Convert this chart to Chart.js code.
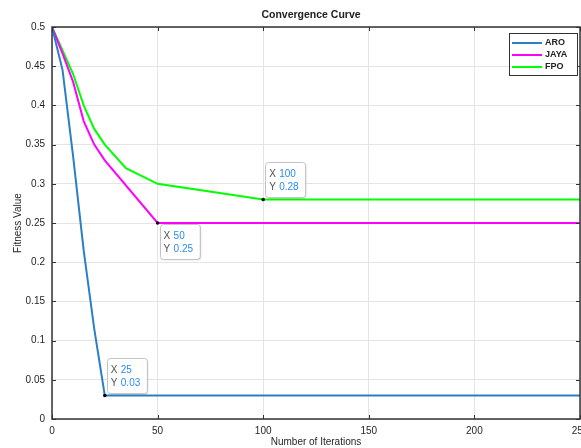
<!DOCTYPE html>
<html><head><meta charset="utf-8">
<script src="https://cdn.jsdelivr.net/npm/chart.js@4.4.1/dist/chart.umd.min.js"></script>
<style>html,body{margin:0;padding:0;background:#fff;overflow:hidden}#wrap{width:581px;height:448px;position:relative}</style>
</head><body><div id="wrap"><canvas id="c" width="581" height="448"></canvas></div>
<script>
const seriesNames = ['ARO', 'JAYA', 'FPO'];
const aroIter  = [0, 5, 10, 15, 20, 25, 250];
const aroFit   = [0.5, 0.445, 0.335, 0.215, 0.115, 0.03, 0.03];
const jayaIter = [0, 5, 10, 15, 20, 25, 50, 250];
const jayaFit  = [0.5, 0.466, 0.43, 0.38, 0.35, 0.33, 0.25, 0.25];
const fpoIter  = [0, 5, 10, 15, 20, 25, 35, 50, 100, 250];
const fpoFit   = [0.5, 0.47, 0.44, 0.40, 0.37, 0.35, 0.32, 0.30, 0.28, 0.28];
const xTicks = [0, 50, 100, 150, 200, 250];
const yTicks = [0, 0.05, 0.1, 0.15, 0.2, 0.25, 0.3, 0.35, 0.4, 0.45, 0.5];
const tipSeries = [0, 1, 2];
const tipIter = [25, 50, 100];
const titleText = 'Convergence Curve';

const iters = [aroIter, jayaIter, fpoIter];
const fits = [aroFit, jayaFit, fpoFit];
const colors = ['#2b7fc6', '#ff00ff', '#00ff00'];
const FAM = '"Liberation Sans", Arial, sans-serif';

const overlay = {
  id: 'overlay',
  afterDatasetsDraw(chart) {
    const {ctx, chartArea: a, scales: {x, y}} = chart;
    ctx.save();
    const line = (x1, y1, x2, y2) => { ctx.beginPath(); ctx.moveTo(x1, y1); ctx.lineTo(x2, y2); ctx.stroke(); };
    // axes box + inward ticks
    ctx.strokeStyle = '#333'; ctx.lineWidth = 1;
    xTicks.forEach(v => { const px = Math.round(x.getPixelForValue(v)) + 0.5; line(px, a.bottom, px, a.bottom - 4); line(px, a.top, px, a.top + 4); });
    yTicks.forEach(v => { const py = Math.round(y.getPixelForValue(v)) + 0.5; line(a.left, py, a.left + 4, py); line(a.right, py, a.right - 4, py); });
    ctx.lineWidth = 1.5;
    ctx.strokeRect(Math.round(a.left), Math.round(a.top), Math.round(a.right - a.left), Math.round(a.bottom - a.top));

    // title
    ctx.fillStyle = '#222';
    ctx.font = 'bold 10.5px ' + FAM;
    ctx.textAlign = 'center'; ctx.textBaseline = 'middle';
    ctx.fillText(titleText, (a.left + a.right) / 2 - 5, 15);

    // data tips
    tipSeries.forEach((s, i) => {
      const k = iters[s].indexOf(tipIter[i]);
      const xv = iters[s][k], yv = fits[s][k];
      const px = x.getPixelForValue(xv), py = y.getPixelForValue(yv);
      const w = 40, h = 35;
      const below = (i === 1);
      const bx = px + 2, by = below ? py + 1 : py - 2 - h;
      ctx.save();
      ctx.shadowColor = 'rgba(0,0,0,0.18)'; ctx.shadowBlur = 2; ctx.shadowOffsetX = 1; ctx.shadowOffsetY = 1;
      ctx.fillStyle = '#fff';
      ctx.beginPath(); ctx.roundRect(bx, by, w, h, 3); ctx.fill();
      ctx.restore();
      ctx.strokeStyle = '#c4c4c4'; ctx.lineWidth = 1;
      ctx.beginPath(); ctx.roundRect(Math.round(bx) + 0.5, Math.round(by) + 0.5, w, h, 3); ctx.stroke();
      ctx.font = '10px ' + FAM; ctx.textAlign = 'left'; ctx.textBaseline = 'middle';
      ctx.fillStyle = '#505050';
      ctx.fillText('X', bx + 4, by + 12);
      ctx.fillText('Y', bx + 4, by + 25);
      ctx.fillStyle = '#2a8cf0';
      ctx.fillText(String(xv), bx + 14, by + 12);
      ctx.fillText(yv.toFixed(2), bx + 14, by + 25);
      ctx.fillStyle = '#000';
      ctx.beginPath(); ctx.arc(px, py, 1.8, 0, Math.PI * 2); ctx.fill();
    });

    // legend
    const lx = 509, ly = 33, lw = 68, lh = 42;
    ctx.fillStyle = '#fff'; ctx.fillRect(lx, ly, lw, lh);
    ctx.strokeStyle = '#333'; ctx.lineWidth = 1;
    ctx.strokeRect(lx + 0.5, ly + 0.5, lw, lh);
    ctx.font = 'bold 9px ' + FAM; ctx.textAlign = 'left'; ctx.textBaseline = 'middle';
    seriesNames.forEach((n, i) => {
      const yy = ly + 10 + i * 12;
      ctx.strokeStyle = colors[i]; ctx.lineWidth = 2;
      line(lx + 3, yy, lx + 33, yy);
      ctx.fillStyle = '#222';
      ctx.fillText(n, lx + 36, yy);
    });
    ctx.restore();
  }
};

new Chart(document.getElementById('c'), {
  type: 'line',
  data: {
    datasets: seriesNames.map((n, i) => ({
      label: n,
      data: iters[i].map((v, j) => ({x: v, y: fits[i][j]})),
      borderColor: colors[i], backgroundColor: colors[i],
      borderWidth: 2, pointRadius: 0, fill: false, tension: 0
    }))
  },
  options: {
    responsive: false, animation: false, devicePixelRatio: 1,
    layout: {padding: {top: 27, right: 1, left: 0, bottom: 0}},
    plugins: {legend: {display: false}, tooltip: {enabled: false}, title: {display: false}},
    scales: {
      x: {
        type: 'linear', min: 0, max: 250,
        afterBuildTicks(s) { s.ticks = xTicks.map(v => ({value: v})); },
        afterFit(s) { s.height = 29; s.paddingLeft = 0; s.paddingRight = 0; },
        grid: {color: '#e4e4e4', drawTicks: false},
        border: {display: false},
        ticks: {padding: 6, autoSkip: false, maxRotation: 0, color: '#262626', font: {size: 10, family: FAM}, callback: v => String(v)},
        title: {display: true, text: 'Number of Iterations', color: '#262626', font: {size: 10, family: FAM}, padding: {top: 0, bottom: 0}}
      },
      y: {
        type: 'linear', min: 0, max: 0.5,
        afterBuildTicks(s) { s.ticks = yTicks.map(v => ({value: v})); },
        afterFit(s) { s.width = 52; },
        grid: {color: '#e4e4e4', drawTicks: false},
        border: {display: false},
        ticks: {padding: 7, autoSkip: false, color: '#262626', font: {size: 10, family: FAM}, callback: v => String(v)},
        title: {display: true, text: 'Fitness Value', color: '#262626', font: {size: 10, family: FAM}, padding: {top: 12, bottom: 0}}
      }
    }
  },
  plugins: [overlay]
});
</script>
</body></html>
